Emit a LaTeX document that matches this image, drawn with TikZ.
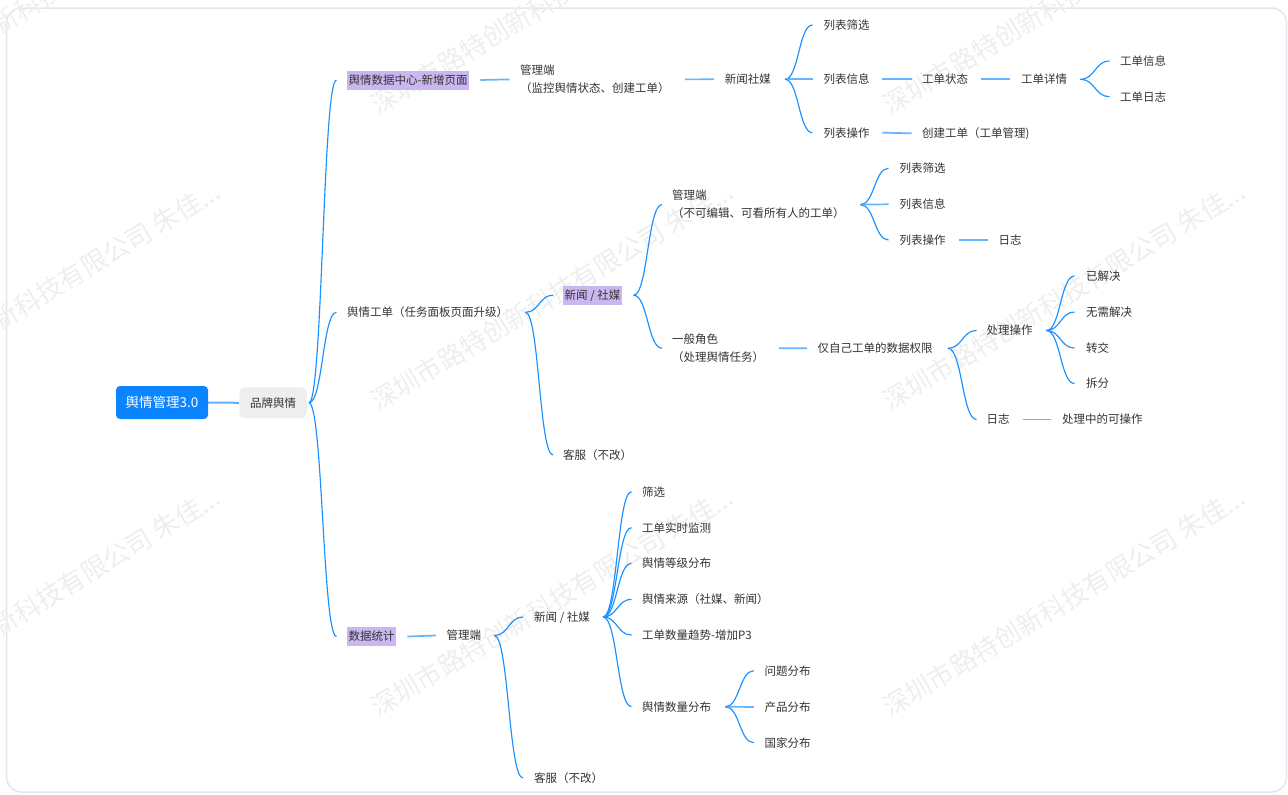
\documentclass[tikz,border=0pt]{standalone}
\usepackage{fontspec}
\setmainfont{Noto Sans CJK SC}
\usetikzlibrary{calc}
\definecolor{linkc}{RGB}{24,144,255}
\definecolor{linkflat}{RGB}{100,180,255}
\definecolor{linklight}{RGB}{95,178,255}
\definecolor{hlc}{RGB}{202,182,240}
\definecolor{rootblue}{RGB}{10,132,255}
\definecolor{brandgray}{RGB}{238,238,238}
\definecolor{txtc}{RGB}{51,51,51}
\definecolor{framec}{RGB}{229,229,237}
\definecolor{wmc}{RGB}{238,238,238}
\newcommand\mmbranch[2]{\draw[link] let \p1=#1, \p2=#2, \p3=($(\p1)!0.5!(\p2)$) in (\p1) .. controls (\x3,\y1) and (\x3,\y2) .. (\p2);}
\begin{document}
\begin{tikzpicture}[x=1pt,y=-1pt,
  lbl/.style={font=\fontsize{11.5}{18}\selectfont, text=txtc, inner sep=0pt, anchor=west},
  one/.style={lbl, text height=10.9pt, text depth=2.1pt},
  two/.style={lbl, align=left},
  hlbox/.style={one, fill=hlc, inner xsep=1.5pt, inner ysep=3pt},
  link/.style={draw=linkc, line width=1.15pt},
  flat/.style={draw=linkflat, line width=1.7pt},
  wmark/.style={font=\fontsize{26}{26}\selectfont, text=wmc, rotate=31, anchor=base west, inner sep=0pt}
]
\useasboundingbox (0,0) rectangle (1288,795);
\draw[framec, line width=1.5pt, rounded corners=15pt] (6.5,8) rectangle (1286.5,792);
% watermark
\foreach \wx in {-135,378,890} {
  \foreach \wy in {116,412,718} {
    \node[wmark] at (\wx,\wy) {深圳市路特创新科技有限公司 朱佳...};
  }
}
% root and first level
\node[fill=rootblue, rounded corners=4pt, text=white, font=\fontsize{13.5}{16}\selectfont, minimum width=92pt, minimum height=33pt, inner sep=0pt, text height=11.13pt, text depth=0.87pt] (root) at (162,402.5) {舆情管理3.0};
\node[fill=brandgray, rounded corners=5pt, text=txtc, font=\fontsize{11.5}{14}\selectfont, minimum width=67.5pt, minimum height=31pt, inner sep=0pt, text height=10.4pt, text depth=1.6pt] (brand) at (273,402.8) {品牌舆情};
\draw[draw=linklight, line width=2pt] (root.east) -- (brand.west);

\node[hlbox] (s1) at (347,80) {舆情数据中心-新增页面};
\node[one] (s2) at (347,312.3) {舆情工单（任务面板页面升级）};
\node[hlbox] (s3) at (347,636.5) {数据统计};

% branch 1
\node[two] (a1) at (520,79.4) {管理端\\（监控舆情状态、创建工单）};
\node[one] (b1) at (724.6,79.3) {新闻社媒};
\node[one] (c1) at (823.5,25) {列表筛选};
\node[one] (c2) at (823.5,79.3) {列表信息};
\node[one] (c3) at (823.5,132.7) {列表操作};
\node[one] (d1) at (922,79.3) {工单状态};
\node[one] (e1) at (1021,79.3) {工单详情};
\node[one] (f1) at (1120,61) {工单信息};
\node[one] (f2) at (1120,96.7) {工单日志};
\node[one] (d2) at (922,133.3) {创建工单（工单管理)};

% branch 2
\node[hlbox] (g1) at (563,295.2) {新闻 / 社媒};
\node[one] (g2) at (563,455) {客服（不改）};
\node[two] (h1) at (672,204.6) {管理端\\（不可编辑、可看所有人的工单）};
\node[two] (h2) at (672,348.2) {一般角色\\（处理舆情任务）};
\node[one] (i1) at (899.5,168.3) {列表筛选};
\node[one] (i2) at (899.5,204.3) {列表信息};
\node[one] (i3) at (899.5,240) {列表操作};
\node[one] (j1) at (998.5,240) {日志};
\node[one] (k1) at (817.5,348.3) {仅自己工单的数据权限};
\node[one] (l1) at (986.5,330.5) {处理操作};
\node[one] (l2) at (986.5,419.5) {日志};
\node[one] (m1) at (1086,276) {已解决};
\node[one] (m2) at (1086,312) {无需解决};
\node[one] (m3) at (1086,348) {转交};
\node[one] (m4) at (1086,383.5) {拆分};
\node[one] (n1) at (1062,419.5) {处理中的可操作};

% branch 3
\node[one] (o1) at (446.4,635.5) {管理端};
\node[one] (p1) at (534,617) {新闻 / 社媒};
\node[one] (p2) at (534,778) {客服（不改）};
\node[one] (q1) at (642,491.7) {筛选};
\node[one] (q2) at (642,527.7) {工单实时监测};
\node[one] (q3) at (642,563.3) {舆情等级分布};
\node[one] (q4) at (642,599.3) {舆情来源（社媒、新闻）};
\node[one] (q5) at (642,635) {工单数量趋势-增加P3};
\node[one] (q6) at (642,706.7) {舆情数量分布};
\node[one] (r1) at (764.3,670.7) {问题分布};
\node[one] (r2) at (764.3,707) {产品分布};
\node[one] (r3) at (764.3,742.7) {国家分布};

% connectors level 1
\mmbranch{([xshift=2pt]brand.east)}{([xshift=-10.5pt]s1.west)}
\mmbranch{([xshift=2pt]brand.east)}{([xshift=-10.5pt]s2.west)}
\mmbranch{([xshift=2pt]brand.east)}{([xshift=-10.5pt]s3.west)}

% branch 1 connectors
\draw[flat] ([xshift=11pt]s1.east) -- ([xshift=-10.5pt]a1.west);
\draw[flat] ([xshift=15pt]a1.east) -- ([xshift=-10.5pt]b1.west);
\mmbranch{([xshift=14pt]b1.east)}{([xshift=-11pt]c1.west)}
\draw[flat] ([xshift=14pt]b1.east) -- ([xshift=-11pt]c2.west);
\mmbranch{([xshift=14pt]b1.east)}{([xshift=-11pt]c3.west)}
\draw[flat] ([xshift=12.5pt]c2.east) -- ([xshift=-10.5pt]d1.west);
\draw[flat] ([xshift=13pt]d1.east) -- ([xshift=-11pt]e1.west);
\mmbranch{([xshift=13pt]e1.east)}{([xshift=-10.5pt]f1.west)}
\mmbranch{([xshift=13pt]e1.east)}{([xshift=-10.5pt]f2.west)}
\draw[flat] ([xshift=12.5pt]c3.east) -- ([xshift=-10.5pt]d2.west);

% branch 2 connectors
\mmbranch{([xshift=17pt]s2.east)}{([xshift=-10pt]g1.west)}
\mmbranch{([xshift=17pt]s2.east)}{([xshift=-10pt]g2.west)}
\mmbranch{([xshift=11.5pt]g1.east)}{([xshift=-10pt]h1.west)}
\mmbranch{([xshift=11.5pt]g1.east)}{([xshift=-10pt]h2.west)}
\mmbranch{([xshift=15.5pt]h1.east)}{([xshift=-11pt]i1.west)}
\draw[flat] ([xshift=15.5pt]h1.east) -- ([xshift=-11pt]i2.west);
\mmbranch{([xshift=15.5pt]h1.east)}{([xshift=-11pt]i3.west)}
\draw[flat] ([xshift=13.5pt]i3.east) -- ([xshift=-10.5pt]j1.west);
\draw[flat] ([xshift=14.5pt]h2.east) -- ([xshift=-10.5pt]k1.west);
\mmbranch{([xshift=15pt]k1.east)}{([xshift=-10pt]l1.west)}
\mmbranch{([xshift=15pt]k1.east)}{([xshift=-10pt]l2.west)}
\mmbranch{([xshift=13.5pt]l1.east)}{([xshift=-11.5pt]m1.west)}
\mmbranch{([xshift=13.5pt]l1.east)}{([xshift=-11.5pt]m2.west)}
\mmbranch{([xshift=13.5pt]l1.east)}{([xshift=-11.5pt]m3.west)}
\mmbranch{([xshift=13.5pt]l1.east)}{([xshift=-11.5pt]m4.west)}
\draw[flat] ([xshift=13pt]l2.east) -- ([xshift=-11pt]n1.west);

% branch 3 connectors
\draw[flat] ([xshift=11pt]s3.east) -- ([xshift=-10.5pt]o1.west);
\mmbranch{([xshift=13pt]o1.east)}{([xshift=-11pt]p1.west)}
\mmbranch{([xshift=13pt]o1.east)}{([xshift=-11pt]p2.west)}
\mmbranch{([xshift=13pt]p1.east)}{([xshift=-10.5pt]q1.west)}
\mmbranch{([xshift=13pt]p1.east)}{([xshift=-10.5pt]q2.west)}
\mmbranch{([xshift=13pt]p1.east)}{([xshift=-10.5pt]q3.west)}
\mmbranch{([xshift=13pt]p1.east)}{([xshift=-10.5pt]q4.west)}
\mmbranch{([xshift=13pt]p1.east)}{([xshift=-10.5pt]q5.west)}
\mmbranch{([xshift=13pt]p1.east)}{([xshift=-10.5pt]q6.west)}
\mmbranch{([xshift=14pt]q6.east)}{([xshift=-10.5pt]r1.west)}
\draw[flat] ([xshift=14pt]q6.east) -- ([xshift=-10.5pt]r2.west);
\mmbranch{([xshift=14pt]q6.east)}{([xshift=-10.5pt]r3.west)}
\end{tikzpicture}
\end{document}
